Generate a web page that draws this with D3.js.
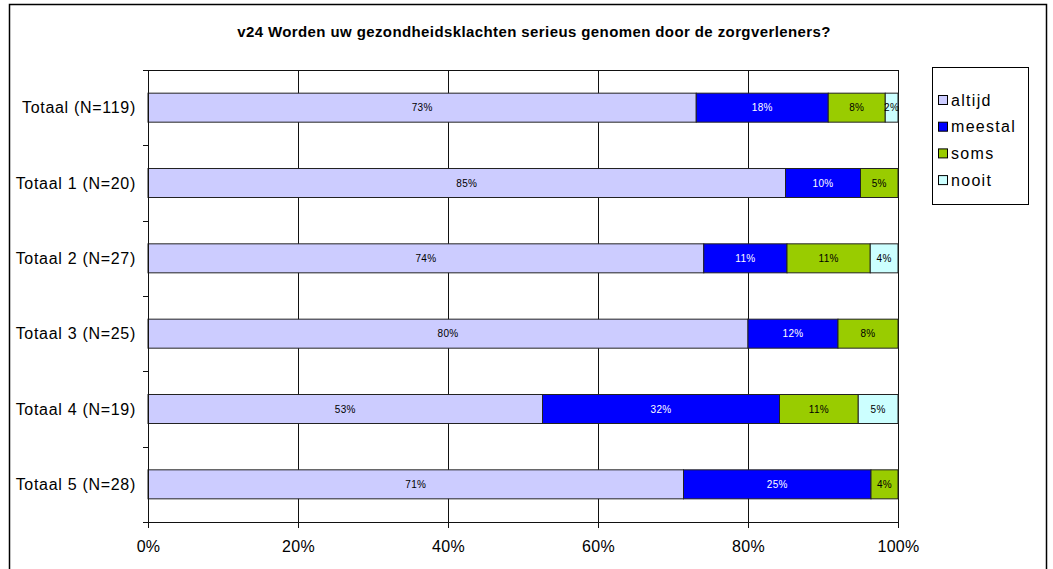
<!DOCTYPE html>
<html><head><meta charset="utf-8">
<script src="https://cdn.jsdelivr.net/npm/d3@7"></script>
<style>
body{margin:0;background:#fff;}
text{font-family:Arial,"Liberation Sans",sans-serif;}
</style></head>
<body>
<svg id="chart" width="1053" height="569"></svg>
<script>
const categories = ["Totaal (N=119)","Totaal 1 (N=20)","Totaal 2 (N=27)","Totaal 3 (N=25)","Totaal 4 (N=19)","Totaal 5 (N=28)"];
const seriesNames = ["altijd","meestal","soms","nooit"];
const altijd  = [73.1, 85.0, 74.1, 80.0, 52.6, 71.4];
const meestal = [17.6, 10.0, 11.1, 12.0, 31.6, 25.0];
const soms    = [7.6, 5.0, 11.1, 8.0, 10.5, 3.6];
const nooit   = [1.7, 0.0, 3.7, 0.0, 5.3, 0.0];
const xTicks = [0, 20, 40, 60, 80, 100];
const title = "v24 Worden uw gezondheidsklachten serieus genomen door de zorgverleners?";

const colors = {altijd:"#CCCCFF", meestal:"#0000FF", soms:"#99CC00", nooit:"#CCFFFF"};
const labelColors = {altijd:"#000", meestal:"#fff", soms:"#000", nooit:"#000"};

const rows = categories.map((c,i)=>({cat:c, altijd:altijd[i], meestal:meestal[i], soms:soms[i], nooit:nooit[i]}));
const stack = d3.stack().keys(seriesNames)(rows);

const svg = d3.select("#chart");
const M = {left:148, right:898, top:70, bottom:522};

// outer frame
svg.append("rect").attr("x",9.5).attr("y",4.5).attr("width",1037).attr("height",600)
  .attr("fill","#fff").attr("stroke","#000").attr("stroke-width",1.5);

svg.append("text").attr("x",534).attr("y",37).attr("text-anchor","middle")
  .attr("font-weight","bold").attr("font-size","15px").attr("letter-spacing","0.4px").text(title);

const x = d3.scaleLinear().domain([0,100]).range([M.left, M.right]);
const y = d3.scaleBand().domain(categories).range([M.top, M.bottom]).paddingInner(0.615).paddingOuter(0.3075);
const yOuter = d3.scaleBand().domain(categories).range([M.top, M.bottom]);

// gridlines
svg.append("g").selectAll("line").data(xTicks).join("line")
  .attr("x1",d=>Math.round(x(d))+0.5).attr("x2",d=>Math.round(x(d))+0.5)
  .attr("y1",M.top).attr("y2",M.bottom).attr("stroke","#111").attr("stroke-width",1);
svg.append("line").attr("x1",M.left).attr("x2",M.right).attr("y1",M.top+0.5).attr("y2",M.top+0.5)
  .attr("stroke","#111");

// bars
const g = svg.append("g");
stack.forEach(layer=>{
  const key = layer.key;
  g.selectAll(null).data(layer.filter(d=>d[1]-d[0]>0)).join("rect")
    .attr("x",d=>x(d[0])).attr("width",d=>x(d[1])-x(d[0]))
    .attr("y",d=>y(d.data.cat)).attr("height",y.bandwidth())
    .attr("fill",colors[key]).attr("stroke","#222").attr("stroke-width",1);
  g.selectAll(null).data(layer.filter(d=>d[1]-d[0]>0)).join("text")
    .attr("x",d=>(x(d[0])+x(d[1]))/2).attr("y",d=>y(d.data.cat)+y.bandwidth()/2)
    .attr("dy","0.35em").attr("text-anchor","middle").attr("font-size","10px")
    .attr("letter-spacing","0.3px")
    .attr("fill",labelColors[key])
    .text(d=>Math.round(d[1]-d[0])+"%");
});

// x axis
const xAxis = svg.append("g").attr("transform",`translate(0,${M.bottom})`)
  .call(d3.axisBottom(x).tickValues(xTicks).tickFormat(d=>d+"%").tickSizeOuter(0).tickSize(6).tickPadding(13));
xAxis.select(".domain").attr("stroke","#111");
xAxis.selectAll(".tick line").attr("stroke","#111");
xAxis.selectAll("text").attr("font-size","16px").attr("fill","#000").attr("letter-spacing","0.3px")
  .attr("font-family",'Arial,"Liberation Sans",sans-serif');

// y axis with ticks at band boundaries
const yAxisG = svg.append("g").attr("transform",`translate(${M.left},0)`);
yAxisG.append("line").attr("x1",0.5).attr("x2",0.5).attr("y1",M.top).attr("y2",M.bottom).attr("stroke","#111");
const bounds = categories.map(c=>yOuter(c)).concat([M.bottom]);
yAxisG.selectAll(".yt").data(bounds).join("line").attr("class","yt")
  .attr("x1",-5).attr("x2",0).attr("y1",d=>Math.round(d)+0.5).attr("y2",d=>Math.round(d)+0.5).attr("stroke","#111");
yAxisG.selectAll(".yl").data(categories).join("text").attr("class","yl")
  .attr("x",-12).attr("y",d=>y(d)+y.bandwidth()/2).attr("dy","0.35em")
  .attr("text-anchor","end").attr("font-size","16px").attr("letter-spacing","0.7px").text(d=>d);

// legend
const lg = svg.append("g");
lg.append("rect").attr("x",932.5).attr("y",67.5).attr("width",96).attr("height",137)
  .attr("fill","#fff").attr("stroke","#000");
seriesNames.forEach((s,i)=>{
  const cy = 100 + i*26.7;
  lg.append("rect").attr("x",938.5).attr("y",cy-4.5).attr("width",9).attr("height",9)
    .attr("fill",colors[s]).attr("stroke","#000");
  lg.append("text").attr("x",951).attr("y",cy).attr("dy","0.35em").attr("font-size","16px")
    .attr("letter-spacing","1.3px").text(s);
});
</script>
</body></html>
